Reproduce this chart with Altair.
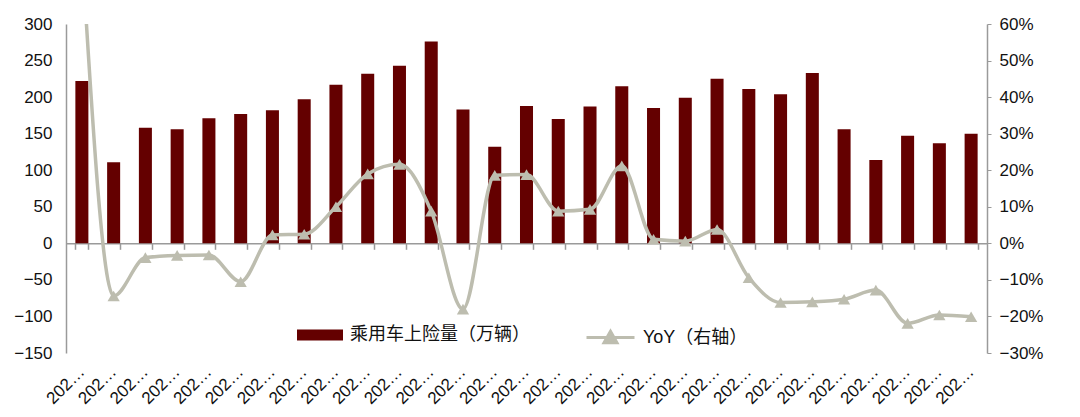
import altair as alt
import pandas as pd

months = ["2024-01", "2024-02", "2024-03", "2024-04", "2024-05", "2024-06",
          "2024-07", "2024-08", "2024-09", "2024-10", "2024-11", "2024-12",
          "2025-01", "2025-02", "2025-03", "2025-04", "2025-05", "2025-06",
          "2025-07", "2025-08", "2025-09", "2025-10", "2025-11", "2025-12",
          "2026-01", "2026-02", "2026-03", "2026-04", "2026-05"]
sales = [222, 111, 158, 156, 171, 177, 182, 197, 217, 232, 243, 276,
         183, 132, 188, 170, 187, 215, 185, 199, 225, 211, 204, 233,
         156, 114, 147, 137, 150]
yoy_pct = [80.0, -14.4, -3.9, -3.3, -3.2, -10.5, 2.3, 2.5, 10.0, 19.0, 21.6, 8.8,
           -18.0, 18.6, 18.8, 8.8, 9.3, 21.2, 1.1, 0.6, 3.8, -9.4, -16.2, -16.0,
           -15.3, -12.8, -21.9, -19.6, -20.1]
bar_name = "乘用车上险量（万辆）"
line_name = "YoY（右轴）"
left_ticks = [-150, -100, -50, 0, 50, 100, 150, 200, 250, 300]
right_ticks = [-0.3, -0.2, -0.1, 0.0, 0.1, 0.2, 0.3, 0.4, 0.5, 0.6]

BAR = "#640000"
LINE = "#bdbdaf"
AXIS = "#9a9a9a"
FONT = "Liberation Sans, Arial, Noto Sans CJK SC"

df = pd.DataFrame({
    "month": months,
    "sales": sales,
    "yoy": [v / 100 for v in yoy_pct],
    "s1": [bar_name] * len(months),
    "s2": [line_name] * len(months),
})

W, H = 921, 329
xscale = alt.Scale(paddingInner=0.59, paddingOuter=0.295)

bars = alt.Chart(df).mark_bar().encode(
    x=alt.X("month:N", sort=months, title=None, scale=xscale,
            axis=alt.Axis(domain=False, ticks=False, labelAngle=315,
                          labelAlign="right", labelBaseline="middle",
                          labelPadding=16, labelLimit=48)),
    y=alt.Y("sales:Q", title=None,
            scale=alt.Scale(domain=[-150, 300], nice=False, zero=False),
            axis=alt.Axis(values=left_ticks, ticks=False, domainColor=AXIS,
                          domainWidth=1.5, labelPadding=14, grid=False)),
    color=alt.Color("s1:N", scale=alt.Scale(domain=[bar_name], range=[BAR]),
                    legend=alt.Legend(title=None, orient="none", legendX=231, legendY=288,
                                      symbolType="M-1,-0.24L1,-0.24L1,0.24L-1,0.24Z",
                                      symbolSize=2116, symbolStrokeWidth=0,
                                      labelFontSize=18, labelOffset=7, labelLimit=400,
                                      padding=0)),
)

x_zero = alt.X("month:N", sort=months, title=None, scale=xscale,
               axis=alt.Axis(labels=False, domain=True, domainColor=AXIS, domainWidth=1.5,
                             ticks=True, tickColor=AXIS, tickSize=6, tickWidth=1.5,
                             tickBand="extent", offset=-109.7, orient="bottom"))
y_right = alt.Y("yoy:Q", title=None,
                scale=alt.Scale(domain=[-0.3, 0.6], nice=False, zero=False),
                axis=alt.Axis(orient="right", values=right_ticks, format=".0%",
                              tickSize=4, tickColor=AXIS, domainColor=AXIS,
                              domainWidth=1.5, labelPadding=8, grid=False))

line = alt.Chart(df).mark_line(interpolate="monotone", strokeWidth=3.5, clip=True).encode(
    x=x_zero,
    y=y_right,
    stroke=alt.Stroke("s2:N", scale=alt.Scale(domain=[line_name], range=[LINE]),
                      legend=alt.Legend(title=None, orient="none", legendX=519, legendY=288,
                                        symbolType="M-1,0L1,0M-0.27,0.22L0,-0.26L0.27,0.22Z",
                                        symbolSize=2304, symbolStrokeWidth=3,
                                        symbolFillColor=LINE,
                                        labelFontSize=18, labelOffset=7, labelLimit=400,
                                        padding=0)),
)

points = alt.Chart(df).mark_point(shape="triangle-up", filled=True, size=150,
                                  color=LINE, opacity=1, clip=True).encode(
    x=x_zero,
    y=y_right,
)

chart = alt.layer(bars, alt.layer(line, points)).resolve_scale(
    y="independent"
).resolve_axis(
    x="independent"
).properties(
    width=W, height=H,
    autosize=alt.AutoSizeParams(type="none"),
    padding={"left": 58, "top": 16, "right": 85, "bottom": 56},
).configure_axis(
    labelFont=FONT, labelFontSize=17, labelColor="#111",
).configure_legend(
    labelFont=FONT, labelFontSize=18, labelColor="#111",
).configure_view(stroke=None)

chart.save("out.html", embed_options={"renderer": "svg", "actions": False})
